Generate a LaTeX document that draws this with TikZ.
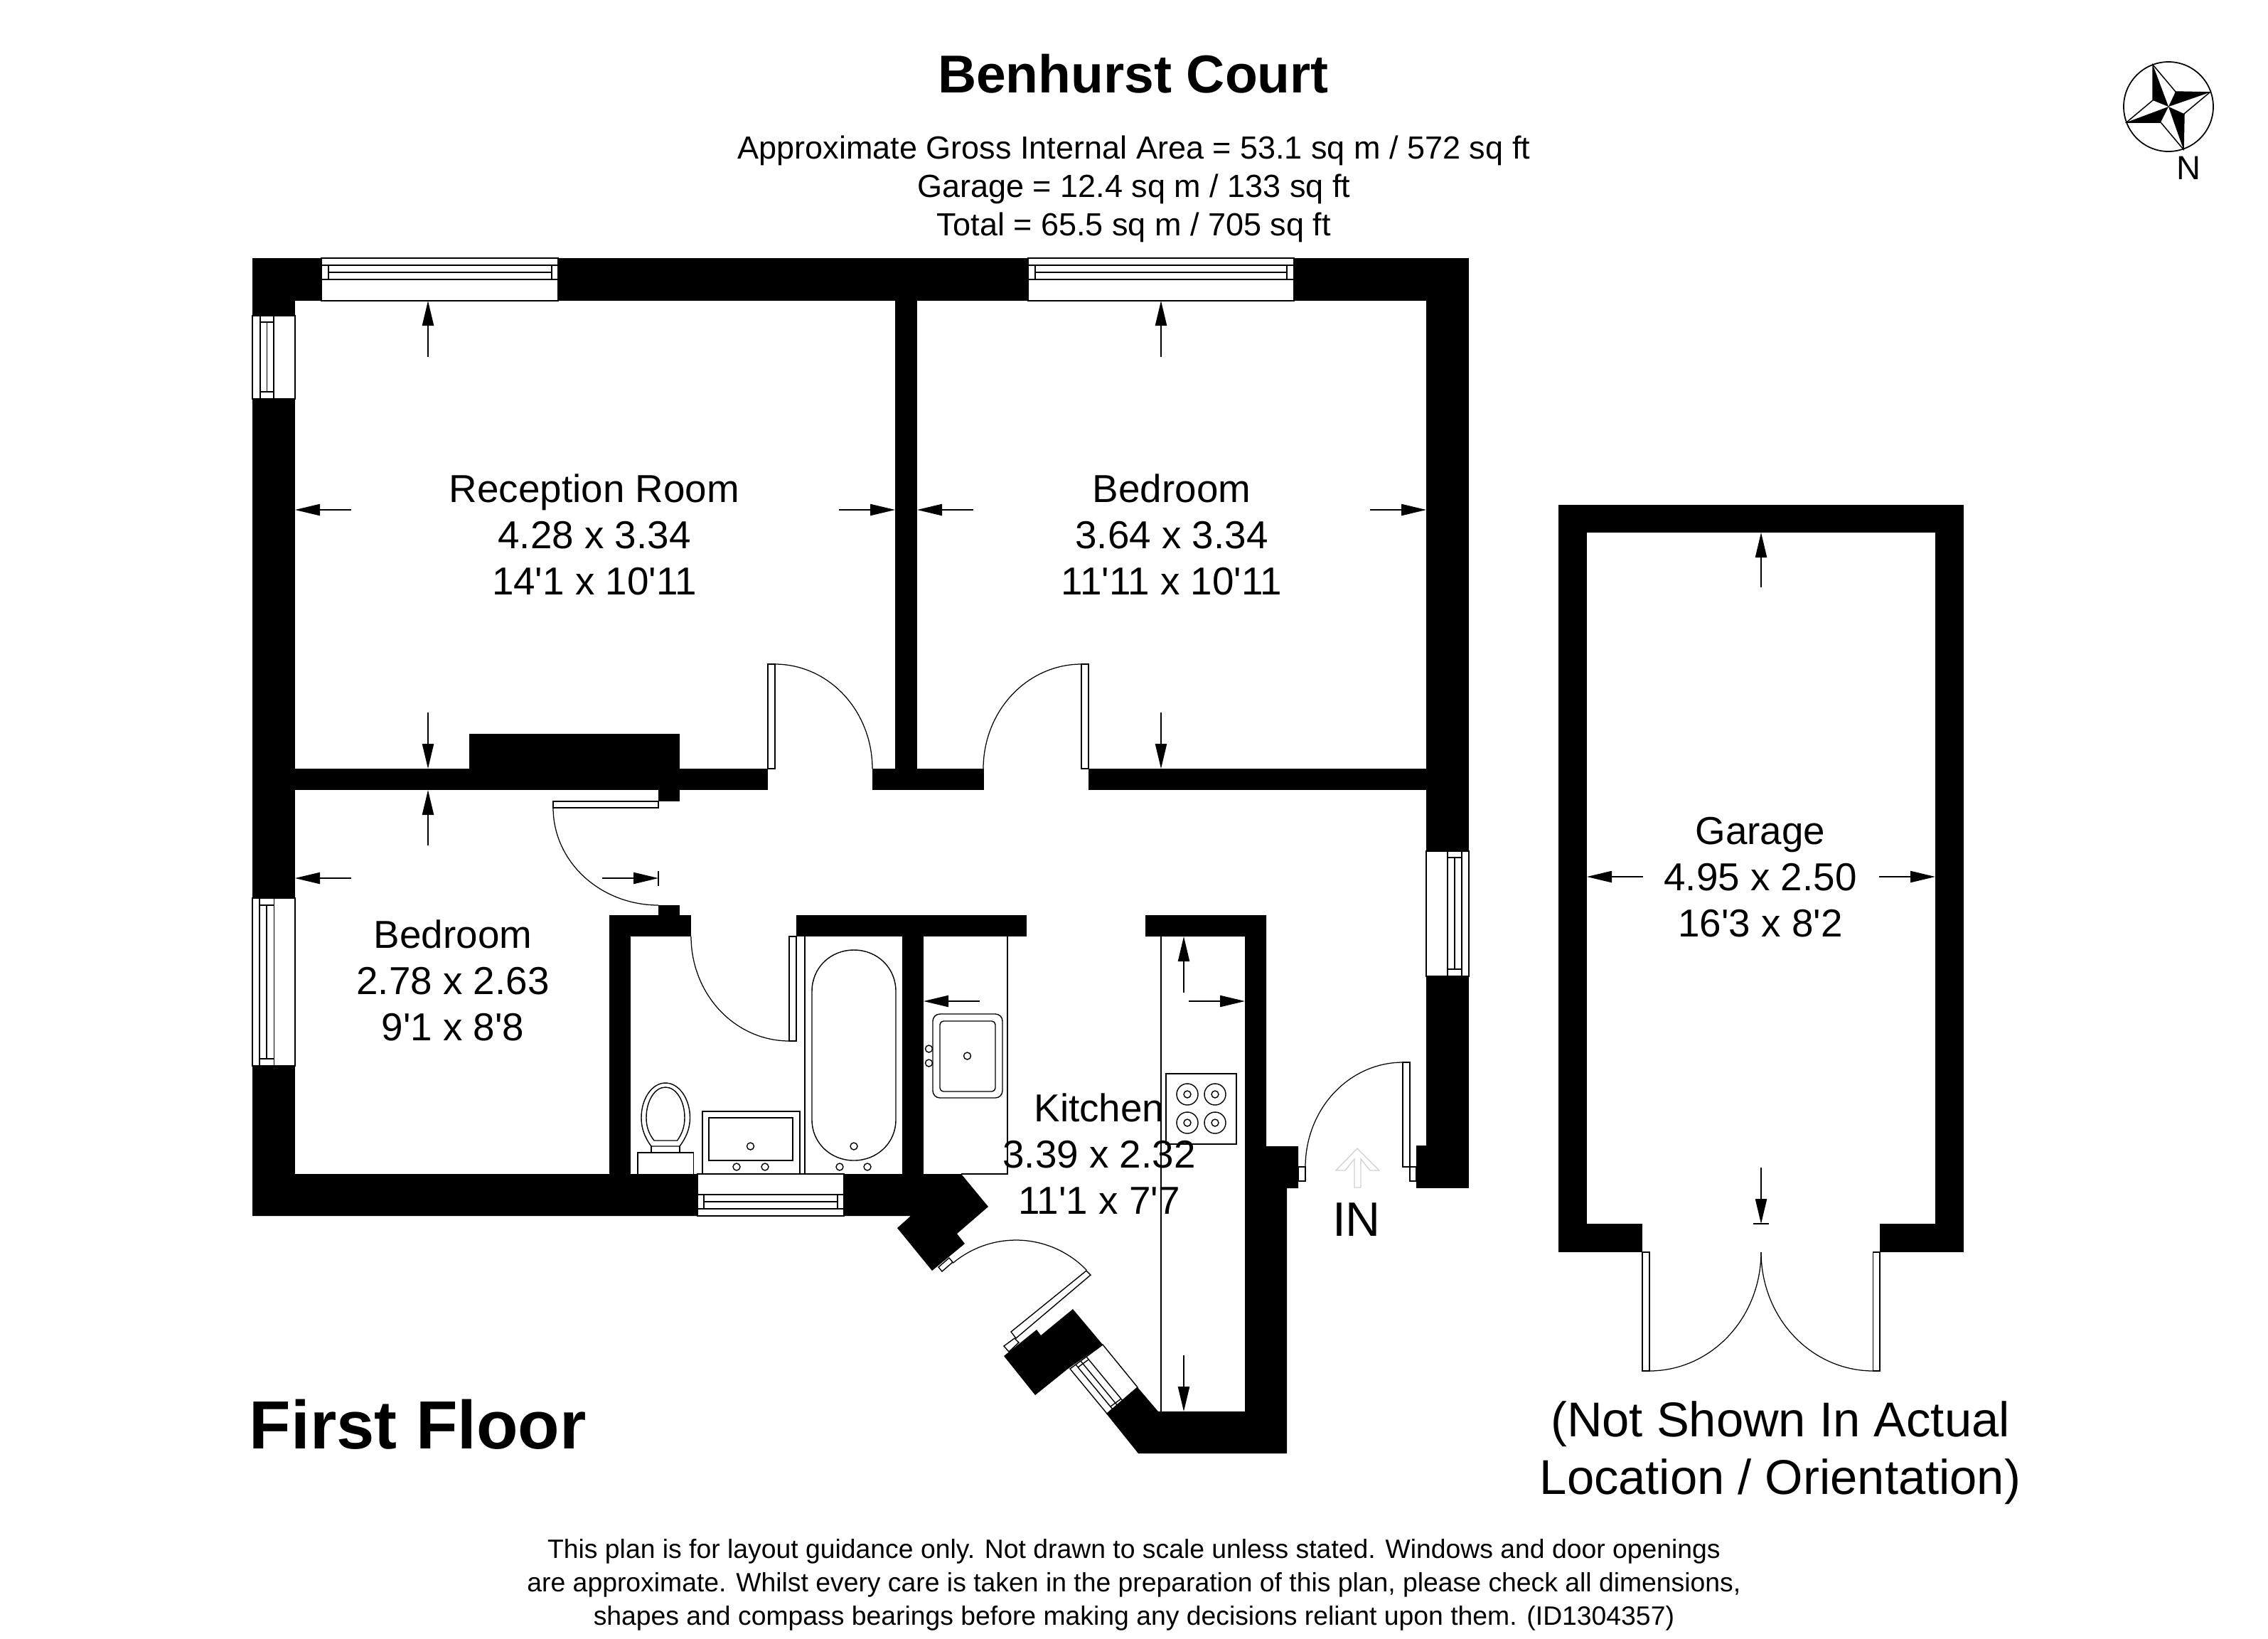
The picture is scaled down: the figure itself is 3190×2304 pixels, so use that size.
\documentclass[tikz,border=0pt]{standalone}
\usepackage{fontspec}
\setmainfont[Ligatures=TeXOff]{Liberation Sans}
\usetikzlibrary{arrows.meta}
\tikzset{
  wall/.style={fill=black,draw=none},
  fine/.style={draw=black,line width=0.34pt},
  win/.style={fill=white,draw=black,line width=0.34pt},
  dimarrow/.style={draw=black,line width=0.34pt,-{Triangle[length=8.4pt,width=3.9pt]},shorten >=0pt},
  roomtext/.style={align=center,inner sep=0pt,font=\fontsize{13.15}{15.6}\selectfont},
  plain/.style={align=center,inner sep=0pt},
}
\newcommand{\doorarc}[6]{\draw[fine,line width=0.3pt] plot[domain=#5:#6,samples=40] ({#1+#3*cos(\x)},{#2-#4*sin(\x)});}
\newcommand{\dimar}[4]{\draw[dimarrow] (#1,#2) -- (#3,#4);}
\begin{document}
\begin{tikzpicture}[x=0.24pt,y=-0.24pt]
\useasboundingbox (0,0) rectangle (3190,2304);
\fill[white] (0,0) rectangle (3190,2304);
% ---- main walls
\fill[wall] (355,363) rectangle (2066,423);
\fill[wall] (355,363) rectangle (415,1710);
\fill[wall] (2006,363) rectangle (2066,1671);
\fill[wall] (1992,1611) rectangle (2066,1671);
\fill[wall] (1259,423) rectangle (1290,1081);
\fill[wall] (355,1081) rectangle (1080,1111);
\fill[wall] (1227,1081) rectangle (1384,1111);
\fill[wall] (1531,1081) rectangle (2066,1111);
\fill[wall] (660,1032) rectangle (956,1081);
\fill[wall] (926,1111) rectangle (956,1127);
\fill[wall] (926,1273) rectangle (956,1287);
\fill[wall] (857,1287) rectangle (972,1317);
\fill[wall] (857,1287) rectangle (887,1651);
\fill[wall] (1120,1287) rectangle (1444,1317);
\fill[wall] (1269,1317) rectangle (1299,1651);
\fill[wall] (1611,1287) -- (1781,1287) -- (1781,1612) -- (1826,1612) -- (1826,1671) -- (1810,1671) -- (1810,2044) -- (1601,2044) -- (1556,1988) -- (1600,1951) -- (1629,1985) -- (1751,1985) -- (1751,1317) -- (1611,1317) -- cycle;
\fill[wall] (355,1651) -- (1352,1651) -- (1390,1697) -- (1346,1735) -- (1357,1749) -- (1311,1787) -- (1262,1727) -- (1281,1710) -- (355,1710) -- cycle;
\fill[wall] (1412,1907) -- (1458,1870) -- (1464,1878) -- (1509,1841) -- (1551,1891) -- (1502,1925) -- (1456,1962) -- cycle;
% ---- windows
\filldraw[win] (452,363) rectangle (785,423);
\draw[fine] (452,373) -- (785,373) (452,393) -- (785,393) (462,383) -- (776,383) (462,373) -- (462,393) (776,373) -- (776,393);
\filldraw[win] (1446,363) rectangle (1820,423);
\draw[fine] (1446,373) -- (1820,373) (1446,393) -- (1820,393) (1456,383) -- (1810,383) (1456,373) -- (1456,393) (1810,373) -- (1810,393);
\filldraw[win] (355,444) rectangle (415,561);
\draw[fine] (366,444) -- (366,561) (385,444) -- (385,561) (375.5,453) -- (375.5,551) (366,453) -- (385,453) (366,551) -- (385,551);
\filldraw[win] (355,1263) rectangle (415,1499);
\draw[fine] (365,1263) -- (365,1499) (385.5,1263) -- (385.5,1499) (375,1273) -- (375,1489) (365,1273) -- (385.5,1273) (365,1489) -- (385.5,1489);
\filldraw[win] (2006,1197) rectangle (2066,1373);
\draw[fine] (2036,1197) -- (2036,1373) (2056,1197) -- (2056,1373) (2046,1206) -- (2046,1363) (2036,1206) -- (2056,1206) (2036,1363) -- (2056,1363);
\filldraw[win] (981,1651) rectangle (1187,1710);
\draw[fine] (981,1680) -- (1187,1680) (981,1700) -- (1187,1700) (990,1690) -- (1178,1690) (990,1680) -- (990,1700) (1178,1680) -- (1178,1700);
% diagonal window
\filldraw[win] (1505,1925) -- (1551,1891) -- (1600,1951) -- (1557,1988) -- cycle;
\draw[fine] (1513,1919) -- (1565,1982) (1528,1908) -- (1580,1971) (1520,1914) -- (1572,1977) (1516,1923) -- (1531,1912) (1562,1978) -- (1577,1967);
% ---- doors
\filldraw[win] (1080,934) rectangle (1090,1081);
\doorarc{1090}{1081}{137}{147}{0}{90}
\filldraw[win] (1521,934) rectangle (1531,1081);
\doorarc{1521}{1081}{138}{147}{90}{180}
\filldraw[win] (778,1127) rectangle (926,1136);
\doorarc{926}{1136}{148}{137}{180}{270}
\filldraw[win] (1110,1317) rectangle (1120,1464);
\doorarc{1110}{1317}{138}{147}{180}{270}
\filldraw[win] (1973,1494) rectangle (1983,1641);
\filldraw[win] (1826,1641) rectangle (1836,1661);
\filldraw[win] (1983,1641) rectangle (1992,1661);
\doorarc{1973}{1641}{137}{147}{90}{180}
% diagonal door
\filldraw[win] (1422,1873) -- (1528,1787) -- (1534,1793) -- (1429,1882) -- cycle;
\filldraw[win] (1412,1893) -- (1419,1901) -- (1433,1888) -- (1427,1882) -- cycle;
\filldraw[win] (1320,1782) -- (1325,1788) -- (1340,1775) -- (1335,1769) -- cycle;
\doorarc{1429}{1882}{138}{138}{44}{130}
% entrance ghost arrow
\draw[gray!35,line width=0.34pt] (1909,1615) -- (1940,1646) -- (1927,1646) -- (1914,1630) -- (1914,1670) -- (1905,1670) -- (1905,1630) -- (1892,1646) -- (1879,1646) -- cycle;
% ---- fittings
\draw[fine] (1132,1317) -- (1132,1651);
\draw[fine] (1142,1394) .. controls (1142,1361) and (1168,1336) .. (1201,1336) .. controls (1234,1336) and (1260,1361) .. (1260,1394) -- (1260,1575) .. controls (1260,1607) and (1234,1632) .. (1201,1632) .. controls (1168,1632) and (1142,1607) .. (1142,1575) -- cycle;
\draw[fine] (1201,1612) circle[radius=5];
\draw[fine] (1181,1641) circle[radius=5];
\draw[fine] (1220,1641) circle[radius=5];
\draw[fine] (988,1651) -- (988,1563) -- (1125,1563) -- (1125,1651);
\draw[fine] (997,1572) rectangle (1115,1632);
\draw[fine] (1055.5,1612) circle[radius=5];
\draw[fine] (1036,1641) circle[radius=5];
\draw[fine] (1076,1641) circle[radius=5];
% toilet
\draw[fine] (897,1651) -- (897,1621) -- (975.5,1621) -- (975.5,1651);
\draw[fine] (916,1621) -- (916,1612) (956,1621) -- (956,1612);
\draw[fine] (916,1612) .. controls (907,1600) and (902,1587) .. (902,1572) .. controls (902,1545) and (917,1523) .. (936,1523) .. controls (955,1523) and (970.5,1545) .. (970.5,1572) .. controls (970.5,1587) and (965,1600) .. (956,1612) -- cycle;
\draw[fine] (920,1604) .. controls (913,1595) and (909,1585) .. (909,1572) .. controls (909,1548) and (921,1529) .. (936,1529) .. controls (951,1529) and (963,1548) .. (963,1572) .. controls (963,1585) and (959,1595) .. (952.5,1604) -- cycle;
% kitchen
\draw[fine] (1417,1317) -- (1417,1651) -- (1352,1651);
\draw[fine] (1633,1317) -- (1633,1985);
\draw[fine,rounded corners=2.4pt] (1312,1426) rectangle (1410,1544);
\draw[fine,rounded corners=1.2pt] (1322,1436) rectangle (1400,1535);
\draw[fine] (1360.5,1485) circle[radius=5];
\draw[fine] (1306.5,1475) circle[radius=5];
\draw[fine] (1306.5,1495) circle[radius=5];
\draw[fine] (1640,1510) rectangle (1739,1609);
\foreach \cx/\cy in {1670/1539,1709/1539,1670/1579,1709/1579}{
  \draw[fine] (\cx,\cy) circle[radius=15];
  \draw[fine] (\cx,\cy) circle[radius=5];
}
% ---- garage
\fill[wall] (2192,710) rectangle (2762,749);
\fill[wall] (2192,710) rectangle (2232,1761);
\fill[wall] (2722,710) rectangle (2762,1761);
\fill[wall] (2192,1721) rectangle (2310,1761);
\fill[wall] (2644,1721) rectangle (2762,1761);
\filldraw[win] (2310,1761) rectangle (2320,1928);
\filldraw[win] (2634.5,1761) rectangle (2644,1928);
\doorarc{2320}{1761}{157}{167}{0}{-90}
\doorarc{2634.5}{1761}{157.5}{167}{180}{270}
% ---- dimension arrows
\dimar{602}{502}{602}{423}
\dimar{602}{1002}{602}{1081}
\dimar{602}{1189}{602}{1111}
\dimar{494}{717}{415}{717}
\dimar{1180}{717}{1259}{717}
\dimar{1369}{717}{1290}{717}
\dimar{1927}{717}{2006}{717}
\dimar{1633}{502}{1633}{423}
\dimar{1633}{1002}{1633}{1081}
\dimar{494}{1235}{415}{1235}
\dimar{847}{1235}{926}{1235}
\draw[fine] (926,1225) -- (926,1246);
\dimar{1378}{1408}{1299}{1408}
\dimar{1665}{1396}{1665}{1317}
\dimar{1672}{1408}{1751}{1408}
\dimar{1665}{1906}{1665}{1985}
\dimar{2477}{826}{2477}{749}
\dimar{2477}{1642}{2477}{1721}
\draw[fine] (2466,1721) -- (2488,1721);
\dimar{2311}{1233}{2232}{1233}
\dimar{2643}{1233}{2722}{1233}
% ---- compass
\draw[black,line width=0.42pt] (3050,150) circle[radius=63];
\filldraw[fill=white,draw=black,line width=0.36pt] (3028,91) -- (3060,129) -- (3108,130) -- (3072,160) -- (3071,210) -- (3039,172) -- (2991,172) -- (3028,141) -- cycle;
\fill[black] (3028,91) -- (3028,141) -- (3050,150) -- cycle;
\fill[black] (3108,130) -- (3060,129) -- (3050,150) -- cycle;
\fill[black] (3071,210) -- (3072,160) -- (3050,150) -- cycle;
\fill[black] (2991,172) -- (3039,172) -- (3050,150) -- cycle;
% ---- texts
\node[plain,font=\bfseries\fontsize{18}{21}\selectfont] (title) at (1594,104) {Benhurst Court};
\node[plain,font=\fontsize{10.8}{12.96}\selectfont] (area) at (1595,266) {Approximate Gross Internal Area = 53.1 sq m / 572 sq ft\\Garage = 12.4 sq m / 133 sq ft\\Total = 65.5 sq m / 705 sq ft};
\node[plain,font=\fontsize{11.3}{13}\selectfont] (north) at (3078,236) {N};
\node[roomtext] (rec) at (836,752) {Reception Room\\4.28 x 3.34\\14'1 x 10'11};
\node[roomtext] (bed2) at (1648,752) {Bedroom\\3.64 x 3.34\\11'11 x 10'11};
\node[roomtext] (bed1) at (637,1379) {Bedroom\\2.78 x 2.63\\9'1 x 8'8};
\node[roomtext] (kit) at (1546,1623) {Kitchen\\3.39 x 2.32\\11'1 x 7'7};
\node[roomtext] (gar) at (2476,1234) {Garage\\4.95 x 2.50\\16'3 x 8'2};
\node[plain,font=\fontsize{16.3}{19}\selectfont] (in) at (1908,1715) {IN};
\node[plain,anchor=west,font=\bfseries\fontsize{23}{26}\selectfont] (floor) at (350,2003) {First Floor};
\node[plain,font=\fontsize{16.5}{19.5}\selectfont] (note) at (2504,2043) {(Not Shown In Actual\\Location / Orientation)};
\node[plain,font=\fontsize{8.96}{11.3}\selectfont] (foot) at (1595,2229) {This plan is for layout guidance only. Not drawn to scale unless stated. Windows and door openings\\are approximate. Whilst every care is taken in the preparation of this plan, please check all dimensions,\\shapes and compass bearings before making any decisions reliant upon them. (ID1304357)};
\end{tikzpicture}
\end{document}
